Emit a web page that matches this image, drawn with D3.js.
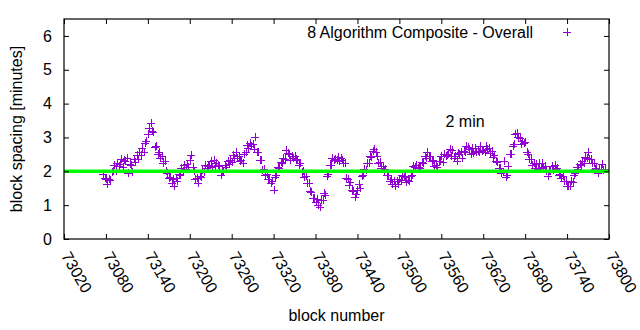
<!DOCTYPE html>
<html>
<head>
<meta charset="utf-8">
<script src="https://cdn.jsdelivr.net/npm/d3@7"></script>
<style>
  body { margin: 0; background: #fff; }
  text { font-family: "Liberation Sans", Arial, sans-serif; fill: #000; }
</style>
</head>
<body>
<div id="vis"></div>
<script>
const FRAME_WIDTH = 640;
const FRAME_HEIGHT = 330;
const MARGINS = { left: 64, right: 31, top: 19, bottom: 91 };
const VIS_WIDTH = FRAME_WIDTH - MARGINS.left - MARGINS.right;
const VIS_HEIGHT = FRAME_HEIGHT - MARGINS.top - MARGINS.bottom;
const FONT = "16px";

const SERIES_NAME = "8 Algorithm Composite - Overall";
const X_TICKS = [73020, 73080, 73140, 73200, 73260, 73320, 73380, 73440, 73500, 73560, 73620, 73680, 73740, 73800];
const Y_TICKS = [0, 1, 2, 3, 4, 5, 6];
const TARGET = 2;
const TARGET_LABEL = "2 min";

// first block and block step of the spacing values below
const FIRST_BLOCK = 73076;
const BLOCK_STEP = 2;

// block spacing in minutes, one row = 40 blocks
const spacing = [
  1.92, 1.80, 1.78, 1.62, 1.76, 1.74, 1.98, 2.00, 2.18, 2.02, 2.24, 2.15, 2.22, 2.36, 2.14, 2.34, 2.30, 2.38, 1.95, 2.22,
  2.20, 1.98, 2.36, 2.28, 2.48, 2.36, 2.56, 2.48, 2.68, 2.58, 2.84, 2.90, 3.10, 3.28, 3.44, 3.20, 3.16, 2.72, 2.76, 2.52,
  2.58, 2.40, 2.44, 2.26, 2.30, 2.00, 1.96, 1.80, 1.84, 1.66, 1.76, 1.58, 1.80, 1.72, 1.92, 1.88, 2.10, 2.02, 2.18, 2.06,
  2.22, 2.12, 2.34, 2.48, 2.14, 2.00, 1.76, 1.80, 1.66, 1.86, 1.84, 2.04, 1.98, 2.18, 2.10, 2.16, 2.18, 2.30, 2.12, 2.34,
  2.16, 2.24, 2.18, 2.16, 1.90, 1.98, 2.00, 2.18, 2.12, 2.30, 2.22, 2.34, 2.28, 2.48, 2.40, 2.56, 2.40, 2.46, 2.30, 2.34,
  2.26, 2.52, 2.56, 2.78, 2.70, 2.84, 2.74, 2.80, 2.66, 3.02, 2.58, 2.56, 2.34, 2.34, 2.04, 2.08, 1.90, 1.92, 1.76, 1.78,
  1.66, 1.72, 1.45, 1.84, 1.90, 2.14, 2.10, 2.28, 2.24, 2.40, 2.36, 2.62, 2.54, 2.50, 2.32, 2.46, 2.40, 2.44, 2.36, 2.34,
  2.20, 2.26, 1.98, 2.00, 1.82, 1.86, 1.66, 1.66, 1.42, 1.40, 1.20, 1.22, 1.10, 1.18, 1.00, 0.95, 1.14, 1.16, 1.36, 1.30,
  1.86, 1.92, 2.18, 2.20, 2.38, 2.32, 2.36, 2.34, 2.42, 2.30, 2.40, 2.34, 2.26, 2.24, 1.80, 1.76, 1.60, 1.68, 1.46, 1.42,
  1.24, 1.34, 1.46, 1.62, 1.52, 1.86, 1.90, 2.06, 2.04, 2.24, 2.26, 2.46, 2.42, 2.60, 2.66, 2.56, 2.46, 2.26, 2.28, 2.10,
  2.16, 2.00, 2.06, 1.90, 1.90, 1.72, 1.78, 1.62, 1.70, 1.58, 1.72, 1.62, 1.76, 1.74, 1.90, 1.86, 1.84, 1.68, 1.74, 1.70,
  1.86, 1.90, 2.16, 2.12, 2.18, 2.10, 2.14, 2.10, 2.28, 2.24, 2.44, 2.40, 2.58, 2.46, 2.44, 2.30, 2.34, 2.16, 2.20, 2.14,
  2.30, 2.30, 2.46, 2.28, 2.50, 2.44, 2.48, 2.50, 2.66, 2.46, 2.64, 2.40, 2.46, 2.30, 2.54, 2.50, 2.56, 2.40, 2.60, 2.56,
  2.76, 2.72, 2.66, 2.50, 2.68, 2.54, 2.70, 2.56, 2.60, 2.58, 2.74, 2.60, 2.64, 2.56, 2.74, 2.66, 2.70, 2.54, 2.60, 2.42,
  2.48, 2.30, 2.28, 2.10, 2.10, 1.94, 1.98, 2.30, 1.84, 1.90, 2.16, 2.50, 2.50, 2.76, 2.80, 3.10, 3.12, 3.02, 2.98, 2.82,
  2.90, 2.84, 2.86, 2.56, 2.52, 2.36, 2.36, 2.20, 2.24, 2.10, 2.22, 2.08, 2.24, 2.10, 2.26, 2.14, 2.16, 2.00, 1.86, 2.00,
  2.00, 2.16, 2.04, 2.20, 2.06, 2.10, 1.90, 1.92, 1.80, 1.86, 1.70, 1.72, 1.56, 1.58, 1.58, 1.72, 1.68, 1.90, 1.94, 2.14,
  2.08, 2.22, 2.18, 2.30, 2.26, 2.42, 2.40, 2.56, 2.36, 2.36, 2.24, 2.24, 2.08, 2.10, 1.94, 2.08, 2.08, 2.22, 2.04, 2.06
];

const blocks = spacing.map((v, i) => FIRST_BLOCK + i * BLOCK_STEP);

const svg = d3.select("#vis")
    .append("svg")
    .attr("width", FRAME_WIDTH)
    .attr("height", FRAME_HEIGHT);

const X_SCALE = d3.scaleLinear()
    .domain([73020, 73800])
    .range([0, VIS_WIDTH]);

const Y_SCALE = d3.scaleLinear()
    .domain([0, 6.5])
    .range([VIS_HEIGHT, 0]);

const g = svg.append("g")
    .attr("transform", "translate(" + MARGINS.left + "," + MARGINS.top + ")");

const CROSS = "M-4,0H4M0,-4V4";

// points
g.selectAll(".pt")
    .data(spacing)
    .enter()
    .append("path")
    .attr("class", "pt")
    .attr("d", CROSS)
    .attr("transform", (d, i) => "translate(" + Math.round(X_SCALE(blocks[i])) + "," + Math.round(Y_SCALE(d)) + ")")
    .attr("stroke", "#9400d3")
    .attr("stroke-width", 1)
    .attr("shape-rendering", "crispEdges")
    .attr("fill", "none");

// 2 min line
g.append("line")
    .attr("x1", X_SCALE(73020))
    .attr("x2", X_SCALE(73800))
    .attr("y1", Y_SCALE(TARGET))
    .attr("y2", Y_SCALE(TARGET))
    .attr("stroke", "#00ff00")
    .attr("stroke-width", 3.5);

g.append("text")
    .attr("x", X_SCALE(73594))
    .attr("y", Y_SCALE(3.48))
    .attr("text-anchor", "middle")
    .attr("dominant-baseline", "central")
    .attr("font-size", FONT)
    .text(TARGET_LABEL);

// axes with inward ticks on all sides
const axisBottom = g.append("g")
    .attr("transform", "translate(0," + VIS_HEIGHT + ")")
    .call(d3.axisBottom(X_SCALE).tickValues(X_TICKS).tickSizeInner(-5).tickSizeOuter(0).tickFormat(d3.format("d")));
axisBottom.selectAll("text")
    .attr("font-size", FONT)
    .attr("font-family", "Liberation Sans, Arial, sans-serif")
    .attr("text-anchor", "start")
    .attr("dominant-baseline", "central")
    .attr("transform", "translate(1,14) rotate(60)")
    .attr("x", 0)
    .attr("y", 0)
    .attr("dy", null);

g.append("g")
    .call(d3.axisTop(X_SCALE).tickValues(X_TICKS).tickSizeInner(-5).tickSizeOuter(0).tickFormat(""));

const axisLeft = g.append("g")
    .call(d3.axisLeft(Y_SCALE).tickValues(Y_TICKS).tickSizeInner(-5).tickSizeOuter(0).tickPadding(12).tickFormat(d3.format("d")));
axisLeft.selectAll("text")
    .attr("font-size", FONT)
    .attr("font-family", "Liberation Sans, Arial, sans-serif");

g.append("g")
    .attr("transform", "translate(" + VIS_WIDTH + ",0)")
    .call(d3.axisRight(Y_SCALE).tickValues(Y_TICKS).tickSizeInner(-5).tickSizeOuter(0).tickFormat(""));

g.selectAll(".domain").remove();
g.selectAll(".tick line").attr("stroke", "#000");

g.append("rect")
    .attr("x", 0)
    .attr("y", 0)
    .attr("width", VIS_WIDTH)
    .attr("height", VIS_HEIGHT)
    .attr("fill", "none")
    .attr("stroke", "#000")
    .attr("stroke-width", 1.2);

// legend
g.append("text")
    .attr("x", 469)
    .attr("y", 13)
    .attr("text-anchor", "end")
    .attr("dominant-baseline", "central")
    .attr("font-size", FONT)
    .text(SERIES_NAME);

g.append("path")
    .attr("d", CROSS)
    .attr("transform", "translate(503,13)")
    .attr("stroke", "#9400d3")
    .attr("stroke-width", 1)
    .attr("shape-rendering", "crispEdges")
    .attr("fill", "none");

// axis titles
svg.append("text")
    .attr("transform", "translate(16," + (MARGINS.top + VIS_HEIGHT / 2) + ") rotate(-90)")
    .attr("text-anchor", "middle")
    .attr("dominant-baseline", "central")
    .attr("font-size", FONT)
    .text("block spacing [minutes]");

svg.append("text")
    .attr("x", MARGINS.left + VIS_WIDTH / 2)
    .attr("y", 315)
    .attr("text-anchor", "middle")
    .attr("dominant-baseline", "central")
    .attr("font-size", FONT)
    .text("block number");
</script>
</body>
</html>
